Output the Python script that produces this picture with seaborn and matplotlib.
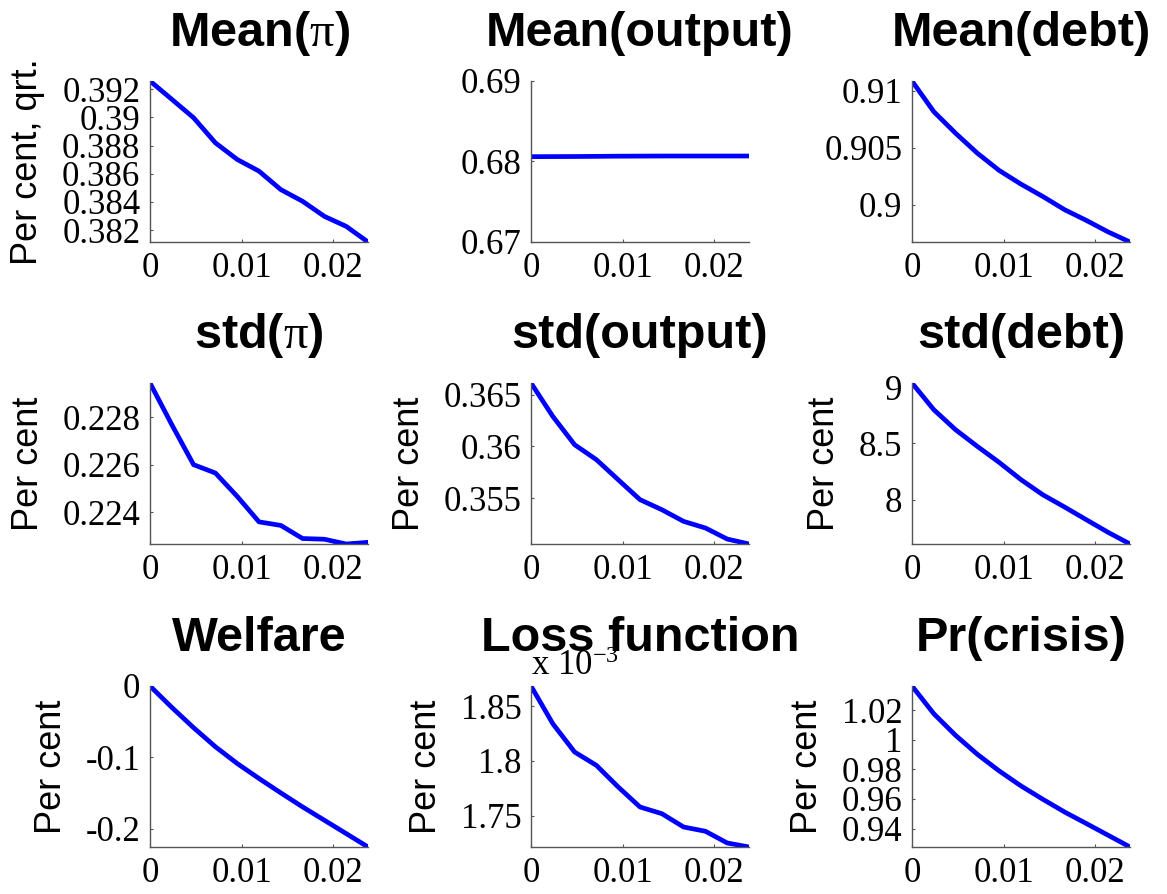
import matplotlib
matplotlib.use("Agg")
import matplotlib.pyplot as plt
import seaborn as sns
import pandas as pd
from matplotlib.ticker import FixedLocator, FuncFormatter

# Policy parameter on the horizontal axis
x_vals = [0.0, 0.00238, 0.00476, 0.00714, 0.00952, 0.0119,
          0.01428, 0.01666, 0.01904, 0.02142, 0.0238]

mean_pi = [0.39259, 0.39129, 0.38998, 0.38820, 0.38702, 0.38619,
           0.38488, 0.38405, 0.38298, 0.38227, 0.38116]
mean_output = [0.68060, 0.68061, 0.68062, 0.68064, 0.68066, 0.68067,
               0.68068, 0.68068, 0.68068, 0.68068, 0.68068]
mean_debt = [0.91085, 0.90816, 0.90627, 0.90452, 0.90301, 0.90181,
             0.90073, 0.89957, 0.89863, 0.89762, 0.89674]
std_pi = [0.22943, 0.22768, 0.22600, 0.22565, 0.22467, 0.22360,
          0.22345, 0.22290, 0.22287, 0.22267, 0.22274]
std_output = [0.36613, 0.36290, 0.36016, 0.35871, 0.35677, 0.35484,
              0.35387, 0.35274, 0.35210, 0.35103, 0.35055]
std_debt = [9.036, 8.799, 8.621, 8.473, 8.331, 8.178,
            8.044, 7.935, 7.822, 7.710, 7.607]
welfare = [0.0, -0.0300, -0.0585, -0.0852, -0.1087, -0.1297,
           -0.1499, -0.1696, -0.1883, -0.2070, -0.2258]
loss_fn = [1.8686e-3, 1.8341e-3, 1.8082e-3, 1.7960e-3, 1.7762e-3, 1.7579e-3,
           1.7518e-3, 1.7396e-3, 1.7357e-3, 1.7250e-3, 1.7213e-3]
pr_crisis = [1.0362, 1.0175, 1.0029, 0.9901, 0.9789, 0.9688,
             0.9598, 0.9512, 0.9434, 0.9355, 0.9276]

titles = ["Mean($\\mathrm{\\pi}$)", "Mean(output)", "Mean(debt)",
          "std($\\mathrm{\\pi}$)", "std(output)", "std(debt)",
          "Welfare", "Loss function", "Pr(crisis)"]
ylabels = ["Per cent, qrt.", "", "",
           "Per cent", "Per cent", "Per cent",
           "Per cent", "Per cent", "Per cent"]
series = [mean_pi, mean_output, mean_debt,
          std_pi, std_output, std_debt,
          welfare, loss_fn, pr_crisis]
yticks = [[0.382, 0.384, 0.386, 0.388, 0.39, 0.392],
          [0.67, 0.68, 0.69],
          [0.9, 0.905, 0.91],
          [0.224, 0.226, 0.228],
          [0.355, 0.36, 0.365],
          [8, 8.5, 9],
          [-0.2, -0.1, 0],
          [1.75e-3, 1.8e-3, 1.85e-3],
          [0.94, 0.96, 0.98, 1.0, 1.02]]
xticks = [0, 0.01, 0.02]

sns.set_style("ticks")
plt.rcParams.update({
    "font.family": ["Liberation Sans", "DejaVu Sans"],
    "text.color": "black",
    "axes.labelcolor": "black",
    "axes.titlecolor": "black",
    "xtick.labelcolor": "black",
    "ytick.labelcolor": "black",
    "mathtext.fontset": "custom",
    "mathtext.rm": "Liberation Serif",
    "mathtext.it": "Liberation Serif:italic",
    "mathtext.bf": "Liberation Serif:bold",
})

W, H = 1167, 894
fig = plt.figure(figsize=(W / 100, H / 100), dpi=100)

col_left = [150, 531, 912]
row_top = [81, 383, 686]
ax_w, ax_h = 218, 161

for i in range(9):
    r, c = divmod(i, 3)
    left = col_left[c] / W
    bottom = 1 - (row_top[r] + ax_h) / H
    ax = fig.add_axes([left, bottom, ax_w / W, ax_h / H])

    df = pd.DataFrame({"x": x_vals, "y": series[i]})
    sns.lineplot(data=df, x="x", y="y", ax=ax, color="#0000ff",
                 linewidth=3.4, solid_capstyle="round")

    ax.set_xlim(0, x_vals[-1])
    if i == 1:
        ax.set_ylim(0.67, 0.69)
    else:
        ax.set_ylim(min(series[i]), max(series[i]))

    scale = 1e3 if i == 7 else 1.0
    ax.yaxis.set_major_locator(FixedLocator(yticks[i]))
    ax.yaxis.set_major_formatter(FuncFormatter(lambda v, p, s=scale: "%g" % round(v * s, 6)))
    ax.xaxis.set_major_locator(FixedLocator(xticks))
    ax.xaxis.set_major_formatter(FuncFormatter(lambda v, p: "%g" % round(v, 6)))

    for s in ["top", "right"]:
        ax.spines[s].set_visible(False)
    for s in ["left", "bottom"]:
        ax.spines[s].set_color("#555555")
        ax.spines[s].set_linewidth(1.0)

    ax.tick_params(axis="both", direction="in", length=2.5, width=0.8,
                   color="#555555", labelsize=25,
                   labelfontfamily="Liberation Serif", labelcolor="black")
    ax.tick_params(axis="y", pad=7)
    ax.tick_params(axis="x", pad=7)

    ax.set_xlabel("")
    ax.set_ylabel(ylabels[i], fontsize=26, fontfamily="Liberation Sans",
                  labelpad=12, color="black")
    ax.set_title(titles[i], fontsize=35, fontweight="bold",
                 fontfamily="Liberation Sans", pad=25, color="black")

    if i == 7:
        ax.text(0.0, 1.068, "x 10$^{-3}$", transform=ax.transAxes,
                ha="left", va="baseline", fontsize=25, color="black",
                fontfamily="Liberation Serif")

fig.savefig("out.png", dpi=100, facecolor="white")
